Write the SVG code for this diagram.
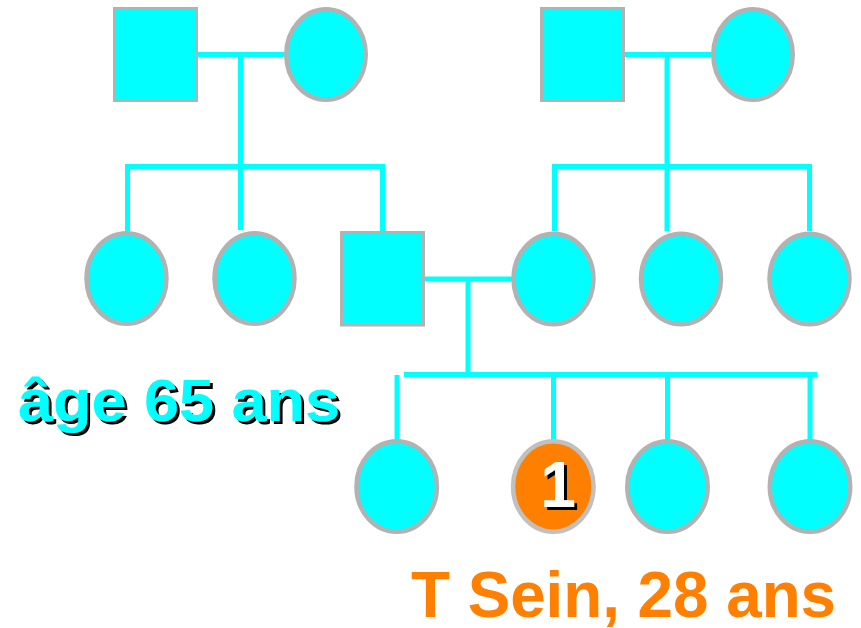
<svg xmlns="http://www.w3.org/2000/svg" width="861" height="628" viewBox="0 0 861 628">
  <defs>
    <filter id="shadow" x="-10%" y="-10%" width="130%" height="140%">
      <feDropShadow dx="3" dy="3" stdDeviation="0" flood-color="#000" flood-opacity="1"/>
    </filter>
    <style>
      .link { stroke: #00ffff; stroke-width: 5; fill: none; stroke-linejoin: miter; stroke-linecap: butt; }
      .male { fill: #00ffff; stroke: #b2b2b2; stroke-width: 3; }
      .female { fill: #00ffff; stroke: #b2b2b2; stroke-width: 4.5; }
      .affected { fill: #ff8000; stroke: #c0c0c0; stroke-width: 4.5; }
      .label { font-family: "Liberation Sans", Arial, sans-serif; font-weight: bold; }
    </style>
  </defs>
  <rect width="861" height="628" fill="#ffffff"/>

  <!-- family lines -->
  <g id="connectors">
    <!-- generation I couples -->
    <line class="link" x1="197" y1="54.5" x2="285" y2="54.5"/>
    <line class="link" x1="240.5" y1="54.5" x2="240.5" y2="230"/>
    <line class="link" x1="624" y1="54.5" x2="712" y2="54.5"/>
    <line class="link" x1="667" y1="54.5" x2="667" y2="231"/>
    <!-- sibling bars of generation II -->
    <polyline class="link" points="127.5,231 127.5,166.5 382.5,166.5 382.5,231"/>
    <polyline class="link" points="554.5,231 554.5,166.5 809.5,166.5 809.5,231"/>
    <!-- generation II couple -->
    <line class="link" x1="425" y1="279" x2="512" y2="279"/>
    <line class="link" x1="468" y1="279" x2="468" y2="374.5"/>
    <!-- sibling bar of generation III -->
    <line class="link" x1="404" y1="374.5" x2="817" y2="374.5"/>
    <line class="link" x1="397" y1="375" x2="397" y2="440"/>
    <line class="link" x1="553.5" y1="374.5" x2="553.5" y2="440"/>
    <line class="link" x1="667.5" y1="374.5" x2="667.5" y2="440"/>
    <line class="link" x1="810" y1="374.5" x2="810" y2="440"/>
  </g>

  <!-- generation I -->
  <g id="I-1"><rect class="male" x="114.5" y="8.5" width="82" height="92"/></g>
  <g id="I-2"><ellipse class="female" cx="326" cy="54.5" rx="39.75" ry="45.25"/></g>
  <g id="I-3"><rect class="male" x="541.5" y="8.5" width="82" height="92"/></g>
  <g id="I-4"><ellipse class="female" cx="753" cy="54.5" rx="39.75" ry="45.25"/></g>

  <!-- generation II -->
  <g id="II-1"><ellipse class="female" cx="126.5" cy="278.5" rx="40" ry="45.25"/></g>
  <g id="II-2"><ellipse class="female" cx="254.5" cy="278.5" rx="40" ry="45.25"/></g>
  <g id="II-3"><rect class="male" x="341.5" y="232.5" width="82" height="92.5"/></g>
  <g id="II-4"><ellipse class="female" cx="553.5" cy="279" rx="40" ry="45.25"/></g>
  <g id="II-5"><ellipse class="female" cx="681" cy="279" rx="40" ry="45.25"/></g>
  <g id="II-6"><ellipse class="female" cx="809.5" cy="279" rx="40" ry="45.25"/></g>

  <!-- generation III -->
  <g id="III-1"><ellipse class="female" cx="396.7" cy="486.5" rx="40.25" ry="45.25"/></g>
  <g id="III-2">
    <ellipse class="affected" cx="553.3" cy="486.5" rx="40.25" ry="45.25"/>
    <text class="label" x="558" y="507" font-size="64" fill="#ffffff" text-anchor="middle" filter="url(#shadow)">1</text>
  </g>
  <g id="III-3"><ellipse class="female" cx="667.5" cy="486.5" rx="40.25" ry="45.25"/></g>
  <g id="III-4"><ellipse class="female" cx="810" cy="486.5" rx="40.25" ry="45.25"/></g>

  <!-- annotations -->
  <g id="age-label">
    <text class="label" x="18" y="421" font-size="60" fill="#00ffff" textLength="322" lengthAdjust="spacingAndGlyphs" filter="url(#shadow)">âge 65 ans</text>
  </g>
  <g id="diagnosis-label">
    <text class="label" x="411" y="617" font-size="64" fill="#ff8000" textLength="425" lengthAdjust="spacingAndGlyphs">T Sein, 28 ans</text>
  </g>
</svg>
